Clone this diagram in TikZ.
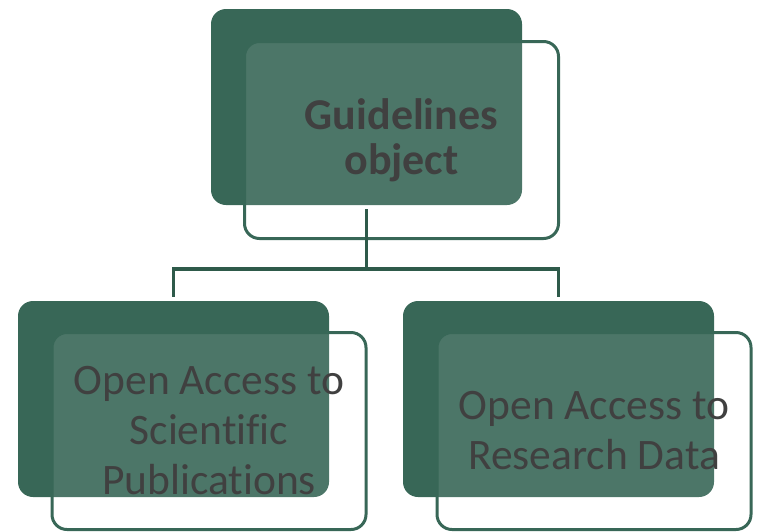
\documentclass[tikz,border=0pt]{standalone}
\usepackage{fontspec}
\setmainfont[Ligatures=CommonOff]{Carlito}
\definecolor{boxgreen}{HTML}{386757}
\definecolor{linegreen}{HTML}{2E5A4A}
\definecolor{textgray}{HTML}{404040}
\tikzset{
  backbox/.style={fill=boxgreen,rounded corners=15pt,minimum width=311pt,minimum height=196pt,inner sep=0pt},
  frontbox/.style={draw=boxgreen,line width=3pt,fill=white,fill opacity=0.1,text opacity=1,rounded corners=15pt,
    minimum width=314pt,minimum height=197pt,inner sep=0pt,align=center,text=textgray},
  branch/.style={draw=linegreen,line width=3.5pt}
}
\begin{document}
\begin{tikzpicture}[x=1pt,y=-1pt]
	\useasboundingbox (0,0) rectangle (759,531);
	% top box
	\node (topBack) at (366.5,107) [backbox]{};
	\node (topFront) at (401.5,140) [frontbox,font=\fontsize{44}{45}\selectfont\bfseries]{Guidelines\\object};
	% bottom boxes
	\node (pubBack) at (173.5,399) [backbox]{};
	\node (pubFront) at (209,431) [frontbox,font=\fontsize{43.5}{50}\selectfont]{Open Access to\\Scientific\\Publications};
	\node (dataBack) at (558.5,399) [backbox]{};
	\node (dataFront) at (594,431) [frontbox,font=\fontsize{43.5}{50}\selectfont]{Open Access to\\Research Data};
	% connectors
	\coordinate (fork) at (366.5,269);
	\draw[branch] ([yshift=-4pt]topBack.south) -- (fork);
	\draw[branch] (fork) -| ([yshift=4pt]pubBack.north);
	\draw[branch] (fork) -| ([yshift=4pt]dataBack.north);
\end{tikzpicture}
\end{document}
